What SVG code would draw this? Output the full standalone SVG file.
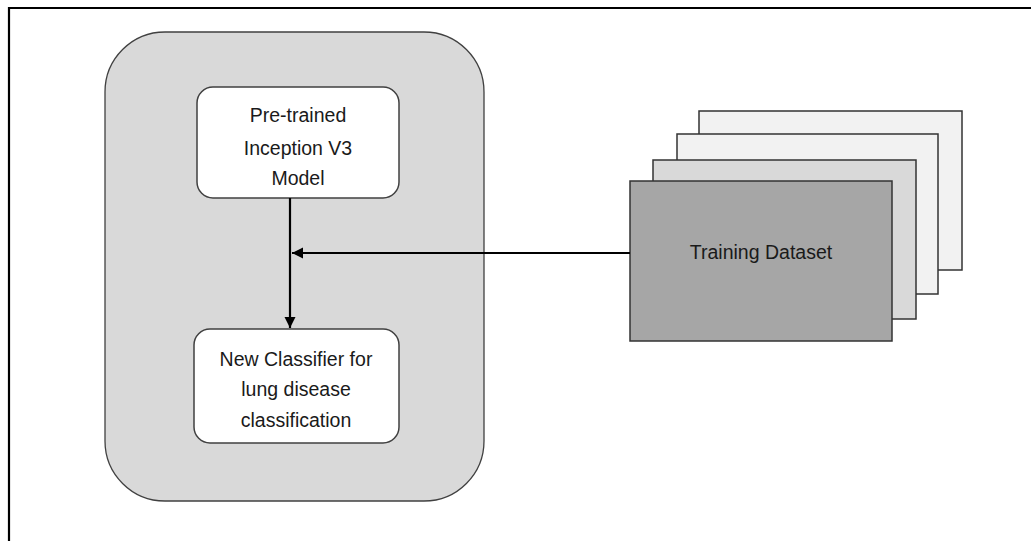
<svg xmlns="http://www.w3.org/2000/svg" width="1031" height="541" viewBox="0 0 1031 541">
  <style>
    .frame { stroke: #000; stroke-width: 2.2; fill: none; }
    .panel { fill: #d9d9d9; stroke: #404040; stroke-width: 1.3; }
    .box { fill: #fff; stroke: #404040; stroke-width: 1.5; }
    .sheet { stroke: #333; stroke-width: 1.5; }
    .label { font-family: "Liberation Sans", Arial, sans-serif; font-size: 19.5px; fill: #1a1a1a; text-anchor: middle; }
    .edge { stroke: #000; stroke-width: 2.2; fill: none; }
  </style>
  <defs>
    <marker id="arrow" markerWidth="12" markerHeight="12" refX="11" refY="6" orient="auto" markerUnits="userSpaceOnUse">
      <path d="M0,0.5 L11,6 L0,11.5 Z" fill="#000"/>
    </marker>
  </defs>

  <rect width="1031" height="541" fill="#fff"/>
  <!-- page border: top and left edges only -->
  <path class="frame" d="M9,541 V8 H1031"/>

  <!-- model container -->
  <g id="container">
    <rect class="panel" x="105" y="32" width="379" height="469" rx="60" ry="60"/>
  </g>

  <g id="pretrained">
    <rect class="box" x="197" y="87" width="202" height="111" rx="16" ry="16"/>
    <text class="label" x="298" y="122">Pre-trained</text>
    <text class="label" x="298" y="155">Inception V3</text>
    <text class="label" x="298" y="185">Model</text>
  </g>

  <g id="classifier">
    <rect class="box" x="194" y="329" width="205" height="114" rx="16" ry="16"/>
    <text class="label" x="296" y="366">New Classifier for</text>
    <text class="label" x="296" y="396">lung disease</text>
    <text class="label" x="296" y="427">classification</text>
  </g>

  <!-- stacked dataset sheets -->
  <g id="dataset">
    <rect class="sheet" x="699" y="111" width="263" height="159" fill="#f2f2f2"/>
    <rect class="sheet" x="677" y="134" width="261" height="160" fill="#f2f2f2"/>
    <rect class="sheet" x="653" y="160" width="263" height="159" fill="#d9d9d9"/>
    <rect class="sheet" x="630" y="181" width="262" height="160" fill="#a6a6a6"/>
    <text class="label" x="761" y="259">Training Dataset</text>
  </g>

  <g id="connectors">
    <line class="edge" x1="290" y1="198" x2="290" y2="328" marker-end="url(#arrow)"/>
    <line class="edge" x1="630" y1="253" x2="292" y2="253" marker-end="url(#arrow)"/>
  </g>
</svg>
